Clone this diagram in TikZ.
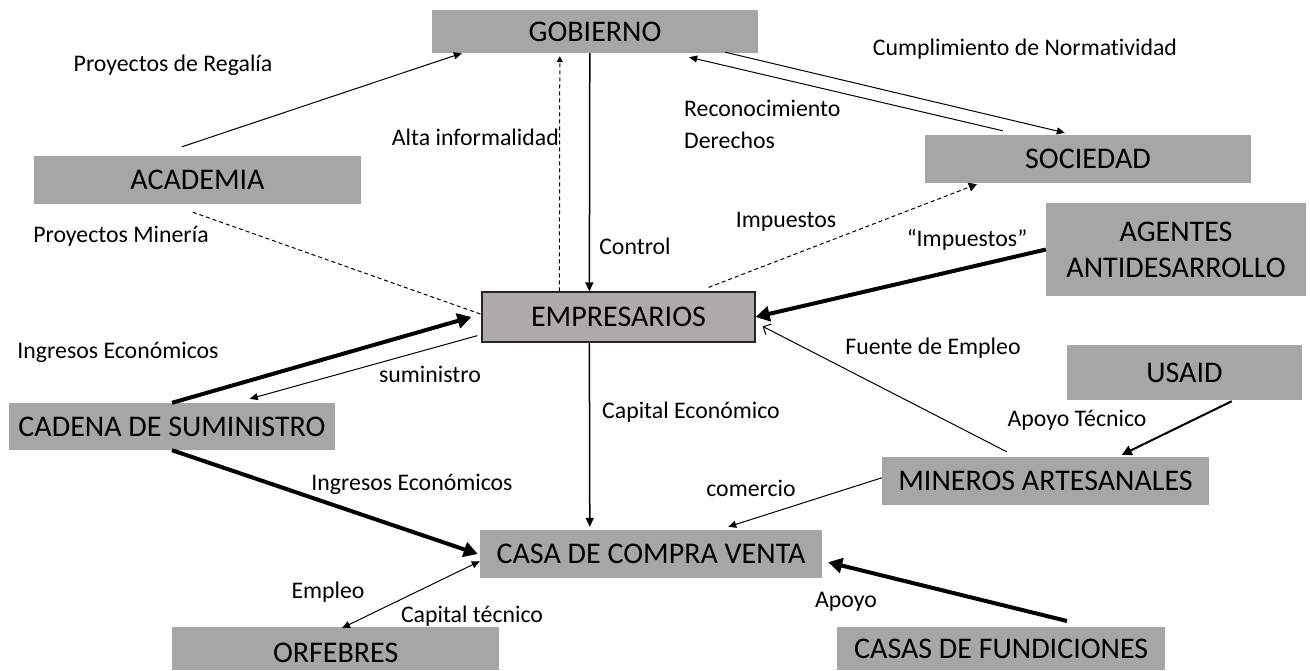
\documentclass[tikz,border=0pt]{standalone}
\usepackage{fontspec}
\setmainfont{Carlito}[Ligatures=NoCommon]
\usetikzlibrary{arrows.meta,calc}
\definecolor{boxgray}{HTML}{A6A6A6}
\definecolor{empgray}{HTML}{AEAAAA}
\tikzset{
  box/.style={fill=boxgray, inner sep=0pt, font=\fontsize{30}{34}\selectfont, align=center, text=black},
  boxtxt/.style={inner sep=0pt, font=\fontsize{30}{34}\selectfont, text=black},
  lbl/.style={inner sep=0pt, font=\fontsize{23.8}{28}\selectfont, text=black},
  thinarr/.style={line width=1pt, -{Triangle[length=8pt,width=7pt]}},
  midarr/.style={line width=2pt, -{Triangle[length=10pt,width=10pt]}},
  thickarr/.style={line width=4pt, -{Triangle[length=14pt,width=15pt]}},
  dasharr/.style={line width=1pt, dash pattern=on 4pt off 3pt, -{Triangle[length=6pt,width=6pt]}},
}
\begin{document}
\begin{tikzpicture}[x=1pt,y=-1pt]
\useasboundingbox (0,0) rectangle (1310,670);
% boxes: centre, width, height
\node[box, minimum width=326pt, minimum height=43pt] (gob) at (595,31.5) {GOBIERNO};
\node[box, minimum width=327pt, minimum height=48pt] (acad) at (197.5,180) {ACADEMIA};
\node[box, minimum width=326pt, minimum height=48pt] (soc) at (1088,159) {SOCIEDAD};
\node[box, minimum width=260pt, minimum height=93pt] (agen) at (1176,249.5) {AGENTES\\[2pt]ANTIDESARROLLO};
\node[box, fill=empgray, draw=black!85, line width=1.3pt, minimum width=273pt, minimum height=50pt] (emp) at (618.5,317) {EMPRESARIOS};
\node[box, minimum width=235pt, minimum height=55pt] (usaid) at (1184.5,372.5) {USAID};
\node[box, minimum width=326pt, minimum height=47pt] (cad) at (172,426.5) {CADENA DE SUMINISTRO};
\node[box, minimum width=327pt, minimum height=48pt] (min) at (1045.5,481) {MINEROS ARTESANALES};
\node[box, minimum width=342pt, minimum height=48pt] (casa) at (651,554) {CASA DE COMPRA VENTA};
\node[box, minimum width=327pt, minimum height=43pt, anchor=north west] (orf) at (172,627) {};
\node[boxtxt] (orft) at ($(orf.center)+(0,4)$) {ORFEBRES};
\node[box, minimum width=328pt, minimum height=43pt, anchor=north west] (fun) at (837,627) {CASAS DE FUNDICIONES};

% connectors
\draw[thinarr] ($(acad.north west)+(148,-9)$) -- ($(gob.south west)+(30,0)$);
\draw[line width=1pt, dash pattern=on 4pt off 3pt] ($(acad.south west)+(159,8)$) -- ($(emp.north west)+(0,23)$);
\draw[dasharr] ($(emp.north west)+(78,0)$) -- ($(gob.south west)+(128,3)$);
\draw[line width=1.5pt, -{Triangle[length=9pt,width=8pt]}] ($(gob.south west)+(158,0)$) -- ($(emp.north west)+(108,0)$);
\draw[thinarr] ($(gob.south east)+(-33,-1)$) -- ($(soc.north west)+(140,-2)$);
\draw[thinarr] ($(soc.north west)+(78,-4)$) -- ($(gob.south east)+(-69,4)$);
\draw[dasharr, -{Triangle[length=8pt,width=9pt]}] ($(emp.north east)+(-47,-4)$) -- ($(soc.south west)+(52,1)$);
\draw[thickarr] (agen.west) -- (emp.east);
\draw[thickarr] (cad.north) -- ($(emp.west)+(-10,0)$);
\draw[thinarr] ($(emp.south west)+(-4,-7)$) -- ($(cad.north west)+(241,-4)$);
\draw[line width=1.5pt, -{Triangle[length=9pt,width=8pt]}] ($(emp.south west)+(108,0)$) -- ($(casa.north west)+(110,-3)$);
\draw[thickarr] (cad.south) -- ($(casa.west)+(-2,0)$);
\draw[line width=1pt, {Triangle[length=8pt,width=7pt]}-{Triangle[length=8pt,width=7pt]}] ($(orf.north west)+(170,1)$) -- ($(casa.south west)+(0,-17)$);
\draw[thinarr] ($(min.north west)+(0,21)$) -- ($(casa.north east)+(-94,-3)$);
\draw[line width=1pt, -{Straight Barb[length=6pt,width=12pt]}] ($(min.north west)+(125,-5)$) -- ($(emp.north east)+(7,35)$);
\draw[midarr] ($(usaid.south west)+(165,1)$) -- ($(min.north west)+(240,-2)$);
\draw[thickarr] ($(fun.north west)+(230,-6)$) -- ($(casa.south east)+(6,-16)$);

% labels
\node[lbl] (l1) at (173,65) {Proyectos de Regalía};
\node[lbl] (l2) at (121,236) {Proyectos Minería};
\node[lbl, anchor=east] (l3) at (559,137) {Alta informalidad};
\node[lbl] (l4) at (635,246) {Control};
\node[lbl] (l5) at (786,222) {Impuestos};
\node[lbl] (l6) at (1025,49) {Cumplimiento de Normatividad};
\node[lbl, anchor=west] (l7) at (684,108) {Reconocimiento};
\node[lbl, anchor=west] (l8) at (684,140) {Derechos};
\node[lbl] (l9) at (967,240) {“Impuestos”};
\node[lbl] (l10) at (118,352) {Ingresos Económicos};
\node[lbl] (l11) at (430,374) {suministro};
\node[lbl] (l12) at (691,412) {Capital Económico};
\node[lbl] (l13) at (933,348) {Fuente de Empleo};
\node[lbl] (l14) at (1077,420) {Apoyo Técnico};
\node[lbl] (l15) at (412,484) {Ingresos Económicos};
\node[lbl] (l16) at (751,488) {comercio};
\node[lbl] (l17) at (328,592) {Empleo};
\node[lbl] (l18) at (472,616) {Capital técnico};
\node[lbl] (l19) at (846,602) {Apoyo};
\end{tikzpicture}
\end{document}
